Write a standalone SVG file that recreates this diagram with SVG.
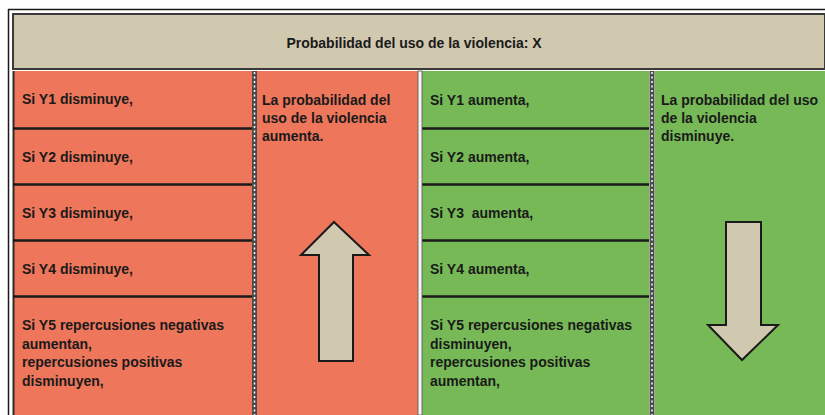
<svg xmlns="http://www.w3.org/2000/svg" width="825" height="415" viewBox="0 0 825 415">
<style>
  text { font-family: "Liberation Sans", Arial, sans-serif; font-size: 14px; font-weight: bold; fill: #1a1a1a; }
  .red { fill: #EE765A; }
  .green { fill: #76B956; }
  .row { stroke: #1a1a1a; stroke-width: 2.5; }
  .sepbg { fill: #4a4a4a; }
  .sepdash { stroke: #ffffff; stroke-width: 1.5; stroke-dasharray: 2 2.5; }
  .arrow { fill: #D0C8AF; stroke: #1a1a1a; stroke-width: 2; stroke-linejoin: miter; }
</style>
<rect x="0" y="0" width="825" height="415" fill="#ffffff"/>
<!-- outer frame -->
<line x1="8" y1="9.5" x2="825" y2="9.5" stroke="#1a1a1a" stroke-width="1.5"/>
<line x1="8.5" y1="9" x2="8.5" y2="415" stroke="#1a1a1a" stroke-width="1.5"/>

<g id="header">
  <rect x="13" y="14" width="812" height="55" fill="#D0C8AF" stroke="#3a3a3a" stroke-width="2"/>
  <text x="414" y="48" text-anchor="middle">Probabilidad del uso de la violencia: X</text>
</g>

<g id="left-conditions">
  <rect class="red" x="13" y="71" width="239" height="344"/>
  <line x1="13.5" y1="71" x2="13.5" y2="415" stroke="#2a2a2a" stroke-width="2"/>
  <text x="22" y="104">Si Y1 disminuye,</text>
  <text x="22" y="162">Si Y2 disminuye,</text>
  <text x="22" y="218">Si Y3 disminuye,</text>
  <text x="22" y="274">Si Y4 disminuye,</text>
  <text x="22" y="330">Si Y5 repercusiones negativas</text>
  <text x="22" y="349">aumentan,</text>
  <text x="22" y="367">repercusiones positivas</text>
  <text x="22" y="386">disminuyen,</text>
</g>

<g id="left-result">
  <rect class="red" x="257" y="71" width="161" height="344"/>
  <text x="262" y="105">La probabilidad del</text>
  <text x="262" y="123">uso de la violencia</text>
  <text x="262" y="141">aumenta.</text>
  <polygon class="arrow" points="334,222 369,255 353,255 353,361 319,361 319,255 301,255"/>
</g>

<g id="right-conditions">
  <rect class="green" x="422" y="71" width="227" height="344"/>
  <text x="430" y="105">Si Y1 aumenta,</text>
  <text x="430" y="162">Si Y2 aumenta,</text>
  <text x="430" y="218" xml:space="preserve">Si Y3  aumenta,</text>
  <text x="430" y="274">Si Y4 aumenta,</text>
  <text x="430" y="330">Si Y5 repercusiones negativas</text>
  <text x="430" y="349">disminuyen,</text>
  <text x="430" y="367">repercusiones positivas</text>
  <text x="430" y="386">aumentan,</text>
</g>

<g id="right-result">
  <rect class="green" x="655" y="71" width="170" height="344"/>
  <text x="661" y="105">La probabilidad del uso</text>
  <text x="661" y="123">de la violencia</text>
  <text x="661" y="141">disminuye.</text>
  <polygon class="arrow" points="726,222 761,222 761,325 778,325 742,360 708,325 726,325"/>
</g>

<g id="connectors">
  <!-- row separators -->
  <line class="row" x1="13" y1="128.5" x2="252" y2="128.5"/>
  <line class="row" x1="13" y1="184.5" x2="252" y2="184.5"/>
  <line class="row" x1="13" y1="240.5" x2="252" y2="240.5"/>
  <line class="row" x1="13" y1="296.5" x2="252" y2="296.5"/>
  <line class="row" x1="422" y1="128.5" x2="649" y2="128.5"/>
  <line class="row" x1="422" y1="184.5" x2="649" y2="184.5"/>
  <line class="row" x1="422" y1="240.5" x2="649" y2="240.5"/>
  <line class="row" x1="422" y1="296.5" x2="649" y2="296.5"/>
  <!-- dashed separators -->
  <rect class="sepbg" x="252" y="71" width="5" height="344"/>
  <line class="sepdash" x1="254.5" y1="72" x2="254.5" y2="415"/>
  <rect class="sepbg" x="649.5" y="71" width="5" height="344"/>
  <line class="sepdash" x1="652" y1="72" x2="652" y2="415"/>
  <!-- middle divider -->
  <rect x="418" y="71" width="4" height="344" fill="#f4f4f4" stroke="#555" stroke-width="0.8"/>
</g>
</svg>
